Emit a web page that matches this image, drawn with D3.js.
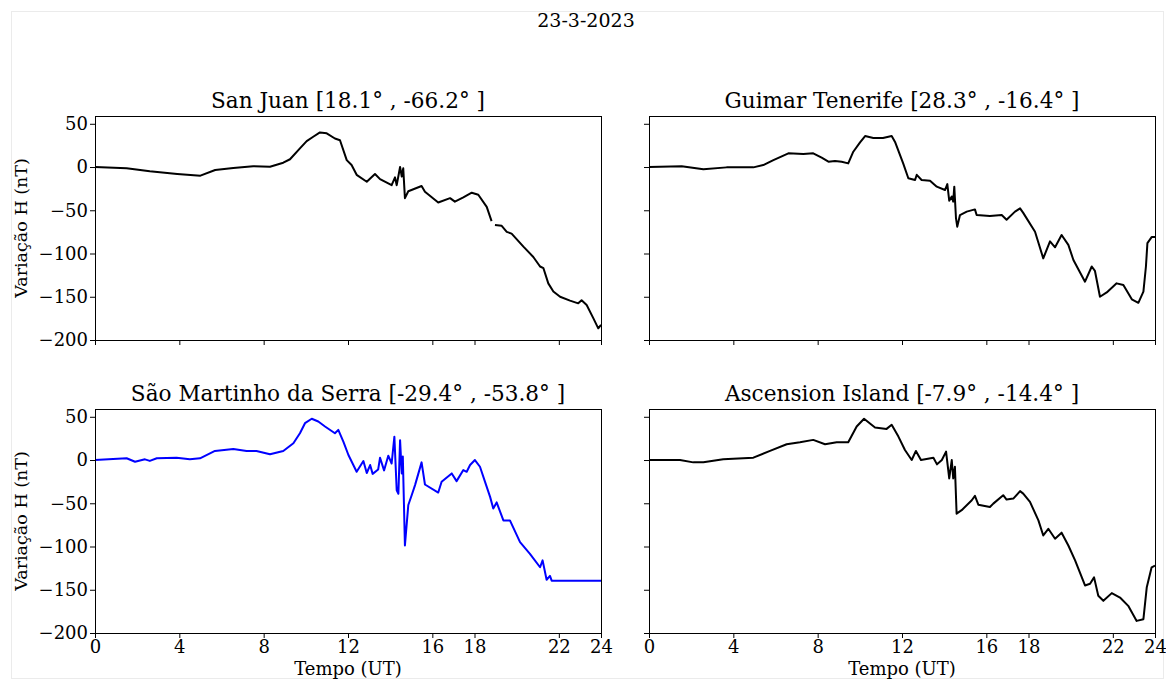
<!DOCTYPE html>
<html lang="pt">
<head>
  <meta charset="UTF-8">
  <script src="https://d3js.org/d3.v7.min.js"></script>
  <title>23-3-2023</title>
  <style>
    body { margin: 0; background: #fff; }
    svg { display: block; font-family: "DejaVu Serif", serif; }
  </style>
</head>
<body>
  <svg id="chart" width="1166" height="680"></svg>
  <script>
    // dados: hora (UT) e variação H (nT)
    const sanJuanT = [0, 1.5, 2.6, 3.9, 5.0, 5.7, 6.56, 7.5, 8.3, 8.93, 9.25, 9.72, 10.04, 10.35, 10.67, 10.99, 11.38, 11.62, 11.94, 12.17, 12.41, 12.89, 13.28, 13.52, 14.07, 14.23, 14.31, 14.47, 14.55, 14.62, 14.70, 14.86, 15.49, 15.65, 16.28, 16.84, 17.07, 17.47, 17.87, 18.18, 18.58, 18.81, 18.89, 18.97, 19.29, 19.53, 19.76, 20.32, 20.79, 21.11, 21.27, 21.50, 21.74, 22.06, 22.53, 22.92, 23.08, 23.32, 23.64, 23.87, 24];
    const sanJuanH = [0, -1.5, -5, -8, -10, -3.5, -1, 1, 0.4, 5, 9, 21.6, 30, 35, 40, 39, 33, 31, 8, 2.3, -9, -17, -8, -14, -21, -12, -21, 0, -11, -1.5, -36, -28, -22, -28.5, -41, -36, -40, -35, -29.7, -32, -46, -62.5, null, -67, -68, -75, -77, -92, -104, -115, -117, -134.5, -144, -150, -154.5, -157.6, -154, -159.5, -175, -186.5, -182.6];

    const guimarT = [0, 1.55, 2.58, 3.68, 4.95, 5.42, 5.90, 6.61, 7.32, 7.79, 8.19, 8.51, 8.82, 9.14, 9.45, 9.69, 10.01, 10.25, 10.64, 11.1, 11.51, 11.67, 12.06, 12.3, 12.62, 12.7, 12.93, 13.33, 13.65, 14.04, 14.15, 14.24, 14.36, 14.43, 14.48, 14.56, 14.62, 14.75, 15.07, 15.46, 15.54, 16.17, 16.73, 16.96, 17.36, 17.6, 17.75, 18.31, 18.70, 19.02, 19.26, 19.57, 19.89, 20.13, 20.68, 21.0, 21.15, 21.39, 21.71, 22.18, 22.50, 22.9, 23.21, 23.45, 23.57, 23.64, 23.84, 24];
    const guimarH = [0, 1, -2.7, -0.4, -0.4, 2.3, 8, 15.8, 15, 15.8, 10.8, 6.2, 7, 6, 4.2, 17.7, 28.5, 35.8, 33.5, 33.5, 35.8, 29, 4, -13, -15, -9, -15, -15.8, -22.7, -26.6, -19.7, -39, -34, -40, -22.7, -59, -69, -55.5, -51.6, -49, -55.5, -56.6, -55.5, -61, -51.6, -47.8, -53, -74.8, -105.6, -86, -92.8, -78.6, -90, -107.5, -132.6, -115, -120, -150, -145, -134.5, -136.5, -153, -157, -144, -115, -88, -81, -81];

    const saoMartinhoT = [0, 1.5, 1.9, 2.37, 2.6, 2.93, 3.87, 4.5, 4.98, 5.69, 6.56, 7.19, 7.66, 8.3, 8.93, 9.41, 9.72, 9.96, 10.28, 10.59, 10.91, 11.38, 11.54, 11.78, 12.02, 12.41, 12.73, 12.89, 13.05, 13.17, 13.43, 13.52, 13.71, 13.91, 14.07, 14.20, 14.31, 14.39, 14.47, 14.55, 14.6, 14.70, 14.86, 15.02, 15.18, 15.49, 15.65, 16.28, 16.44, 16.92, 17.15, 17.47, 17.63, 17.79, 18.02, 18.26, 18.5, 18.74, 18.89, 19.05, 19.37, 19.68, 20.16, 20.63, 21.11, 21.23, 21.42, 21.58, 21.66, 24];
    const saoMartinhoH = [0, 2, -2, 0.8, -1, 2, 2.7, 1, 2, 10.5, 12.8, 10.5, 10.5, 6.6, 10.5, 19.4, 31, 42.6, 47.7, 44.6, 38.8, 31, 34.9, 21.3, 5.8, -13.6, -1.2, -15, -5.8, -16, -11, 2.7, -12, 5, -4, 27, -35, -39, 23, -15.5, 4, -98.8, -52, -40.7, -29, -2.7, -28.3, -37.6, -25.2, -15.5, -24.4, -11.6, -13.6, -5.8, 0, -7.8, -25.2, -42.6, -56, -49, -69.8, -69.8, -95, -108.5, -124, -116, -138.4, -134, -139.5, -139.5];

    const ascensionT = [0, 1.47, 2.1, 2.58, 3.52, 4.95, 5.74, 6.53, 7.16, 7.79, 8.35, 8.90, 9.45, 9.85, 10.2, 10.72, 11.27, 11.51, 11.83, 12.14, 12.46, 12.66, 12.9, 13.49, 13.66, 13.89, 14.09, 14.24, 14.36, 14.43, 14.51, 14.59, 14.83, 15.31, 15.46, 15.62, 16.17, 16.33, 16.8, 16.96, 17.28, 17.6, 17.75, 18.07, 18.47, 18.70, 18.94, 19.26, 19.57, 19.89, 20.21, 20.68, 20.92, 21.11, 21.31, 21.55, 21.95, 22.34, 22.73, 23.13, 23.45, 23.61, 23.84, 24];
    const ascensionH = [0, 0, -2.7, -2.7, 1, 2.7, 10.5, 18.2, 20.5, 23.3, 18.2, 20.5, 20.5, 38.8, 47.7, 37.6, 36, 40.7, 27.1, 11.6, 0, 10.5, 0, 2.7, -5, 0, 9.7, -21.3, 0, -21.3, -7.8, -62, -58, -46.5, -41.5, -51.6, -54.3, -50.4, -40.7, -45.7, -44.6, -36, -38.8, -48.4, -69.8, -87.2, -79.5, -91, -84, -98.8, -116, -145, -143, -135.7, -157, -162.8, -153.9, -159, -168.6, -186, -184, -147, -124, -122];

    const panelTitles = ["San Juan [18.1° , -66.2° ]", "Guimar Tenerife [28.3° , -16.4° ]", "São Martinho da Serra [-29.4° , -53.8° ]", "Ascension Island [-7.9° , -14.4° ]"];
    const xTicks = [0, 4, 8, 12, 16, 18, 22, 24];
    const yTicks = [50, 0, -50, -100, -150, -200];

    const panels = [
      { title: panelTitles[0], t: sanJuanT, h: sanJuanH, color: "black", col: 0, row: 0 },
      { title: panelTitles[1], t: guimarT, h: guimarH, color: "black", col: 1, row: 0 },
      { title: panelTitles[2], t: saoMartinhoT, h: saoMartinhoH, color: "blue", col: 0, row: 1 },
      { title: panelTitles[3], t: ascensionT, h: ascensionH, color: "black", col: 1, row: 1 }
    ];

    const svg = d3.select("#chart");
    const tickFont = 18;

    // moldura clara da figura
    svg.append("rect")
      .attr("x", 11.5).attr("y", 11.5)
      .attr("width", 1152).attr("height", 667)
      .attr("fill", "none").attr("stroke", "#ebebeb");

    svg.append("text")
      .attr("x", 586).attr("y", 27)
      .attr("text-anchor", "middle")
      .style("font-size", "19px")
      .text("23-3-2023");

    const colX = [95, 649];
    const rowY = [116, 409];
    const pw = 506, ph = 224;

    panels.forEach(p => {
      const x0 = colX[p.col], y0 = rowY[p.row];
      const g = svg.append("g").attr("transform", `translate(${x0},${y0})`);

      const x = d3.scaleLinear().domain([0, 24]).range([0, pw]);
      const y = d3.scaleLinear().domain([-200, 59]).range([ph, 0]);

      const xAxis = d3.axisBottom(x).tickValues(xTicks).tickSize(5).tickSizeOuter(0)
        .tickFormat(p.row === 1 ? d3.format("d") : () => "");
      const yAxis = d3.axisLeft(y).tickValues(yTicks).tickSize(5).tickSizeOuter(0)
        .tickFormat(p.col === 0 ? d3.format("d") : () => "");

      const gx = g.append("g").attr("transform", `translate(0,${ph})`).call(xAxis);
      const gy = g.append("g").call(yAxis);
      [gx, gy].forEach(a => {
        a.select(".domain").remove();
        a.selectAll("text").style("font-family", "DejaVu Serif").style("font-size", tickFont + "px").attr("fill", "#000");
        a.selectAll("line").attr("stroke", "#000").attr("stroke-width", 1);
      });
      gx.selectAll("text").attr("dy", "0.72em").attr("y", 7);
      gy.selectAll("text").attr("x", -7).attr("dy", "0.33em");

      const line = d3.line()
        .defined((d, i) => p.h[i] !== null)
        .x((d, i) => x(p.t[i]))
        .y((d, i) => y(p.h[i]));

      g.append("path")
        .attr("d", line(p.t))
        .attr("fill", "none")
        .attr("stroke", p.color)
        .attr("stroke-width", 2)
        .attr("stroke-linejoin", "round");

      g.append("rect")
        .attr("x", 0.5).attr("y", 0.5)
        .attr("width", pw).attr("height", ph)
        .attr("fill", "none").attr("stroke", "#000").attr("stroke-width", 1);

      g.append("text")
        .attr("x", pw / 2).attr("y", -8)
        .attr("text-anchor", "middle")
        .style("font-size", "21.6px")
        .text(p.title);

      if (p.col === 0) {
        g.append("text")
          .attr("transform", `translate(${-68},${ph / 2}) rotate(-90)`)
          .attr("text-anchor", "middle")
          .style("font-size", "17.5px")
          .text("Variação H (nT)");
      }
      if (p.row === 1) {
        g.append("text")
          .attr("x", pw / 2).attr("y", ph + 42)
          .attr("text-anchor", "middle")
          .style("font-size", "18px")
          .text("Tempo (UT)");
      }
    });
  </script>
</body>
</html>
